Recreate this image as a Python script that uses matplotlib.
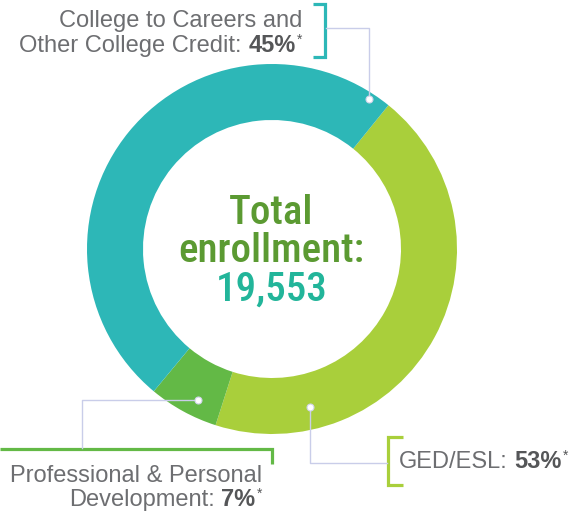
import matplotlib
matplotlib.use('Agg')
import matplotlib.pyplot as plt
from matplotlib import font_manager as fm
import numpy as np

# ---- data ----
categories = ['GED/ESL', 'Professional & Personal Development',
              'College to Careers and Other College Credit']
label_pct = [53, 7, 45]            # percentages printed in the labels
arc_share = [44.1, 6.1, 49.8]      # ring shares as drawn in the picture
colors = ['#a9cf3b', '#63b946', '#2db7b7']
total_enrollment = 19553

W, H = 574, 513
fig = plt.figure(figsize=(W / 100, H / 100), dpi=100)
ax = fig.add_axes([0, 0, 1, 1])

def Y(y_img):
    return H - y_img

cx, cy = 272, Y(249)
R, RW = 185, 56
ax.pie(arc_share, colors=colors, startangle=51, counterclock=False,
       radius=R, center=(cx, cy), wedgeprops=dict(width=RW, linewidth=0))
ax.set_xlim(0, W)
ax.set_ylim(0, H)
ax.set_aspect('equal')
ax.axis('off')

def has_font(name):
    try:
        fm.findfont(fm.FontProperties(family=name), fallback_to_default=False)
        return True
    except Exception:
        return False

narrow = 'Roboto Condensed' if has_font('Roboto Condensed') else 'Liberation Sans'
sans = 'Liberation Sans'

GRAY = '#6d6e71'
DARK = '#555658'
renderer = fig.canvas.get_renderer()

def tw(s, **kw):
    t = ax.text(0, 0, s, **kw)
    w = t.get_window_extent(renderer).width
    t.remove()
    return w

def rich(x, y, parts, ha='left'):
    arts = []
    cur = x
    for s, kw in parts:
        kw = dict(kw)
        gap = kw.pop('gap', 0)
        dy = kw.pop('dy', 0)
        cur += gap
        t = ax.text(cur, y + dy, s, va='baseline', ha='left', **kw)
        arts.append(t)
        cur += t.get_window_extent(renderer).width
    tot = cur - x
    shift = {'left': 0, 'right': -tot, 'center': -tot / 2}[ha]
    for t in arts:
        px, py = t.get_position()
        t.set_x(px + shift)

FS = 17
reg = dict(fontsize=FS, color=GRAY, family=sans)
bold = dict(fontsize=FS, color=DARK, family=sans, fontweight='bold')
sup = dict(fontsize=10, color=DARK, family=sans, dy=8)
space = tw('a a', **reg) - tw('aa', **reg)

# center text
CT = dict(ha='center', va='baseline', fontsize=29.5, family=narrow, fontweight=500)
ax.text(271.5, Y(224), 'Total', color='#5b9a32', **CT)
ax.text(271.5, Y(262), 'enrollment:', color='#5b9a32', **CT)
ax.text(271.5, Y(301), f'{total_enrollment:,}', color='#22b59a', **CT)

# labels
pct = {c: p for c, p in zip(categories, label_pct)}
# top (teal)
rich(302, Y(27), [('College to Careers and', reg)], ha='right')
rich(302, Y(52), [('Other College Credit:', reg),
                  (f'{pct[categories[2]]}%', dict(bold, gap=space)),
                  ('*', dict(sup, gap=1))], ha='right')
# bottom left (green)
rich(262, Y(482), [('Professional & Personal', reg)], ha='right')
rich(262, Y(506), [('Development:', reg),
                   (f'{pct[categories[1]]}%', dict(bold, gap=space)),
                   ('*', dict(sup, gap=1))], ha='right')
# bottom right (lime)
rich(399, Y(468), [('GED/ESL:', reg),
                   (f'{pct[categories[0]]}%', dict(bold, gap=space)),
                   ('*', dict(sup, gap=1))], ha='left')

# brackets
def path(pts, **kw):
    xs = [p[0] for p in pts]
    ys = [Y(p[1]) for p in pts]
    ax.plot(xs, ys, solid_joinstyle='miter', solid_capstyle='butt', **kw)

BR = dict(lw=2.3)
path([(313, 4), (325, 4), (325, 57), (313, 57)], color=colors[2], **BR)
path([(0, 449), (272, 449), (272, 464)], color=colors[1], **BR)
path([(403, 437), (388, 437), (388, 485), (403, 485)], color=colors[0], **BR)

# leaders & dots (dot positions in polar terms around ring center)
LEAD = '#c9cde9'
def polar(ang, r):
    a = np.deg2rad(ang)
    return cx + r * np.sin(a), cy + r * np.cos(a)

d_teal = polar(33, 179)
d_lime = polar(166.5, 163)
d_green = polar(206, 168)

ax.plot([326, d_teal[0], d_teal[0]], [Y(28), Y(28), d_teal[1]], color=LEAD, lw=1.0)
ax.plot([d_lime[0], d_lime[0], 387], [d_lime[1], Y(463), Y(463)], color=LEAD, lw=1.0)
ax.plot([d_green[0], 82, 82], [d_green[1], d_green[1], Y(448)], color=LEAD, lw=1.0)
for d in (d_teal, d_lime, d_green):
    ax.plot(d[0], d[1], 'o', ms=5, mfc='white', mec='#d0d3ea', mew=0.8, zorder=5)

fig.savefig('out.png', dpi=100, facecolor='white')
